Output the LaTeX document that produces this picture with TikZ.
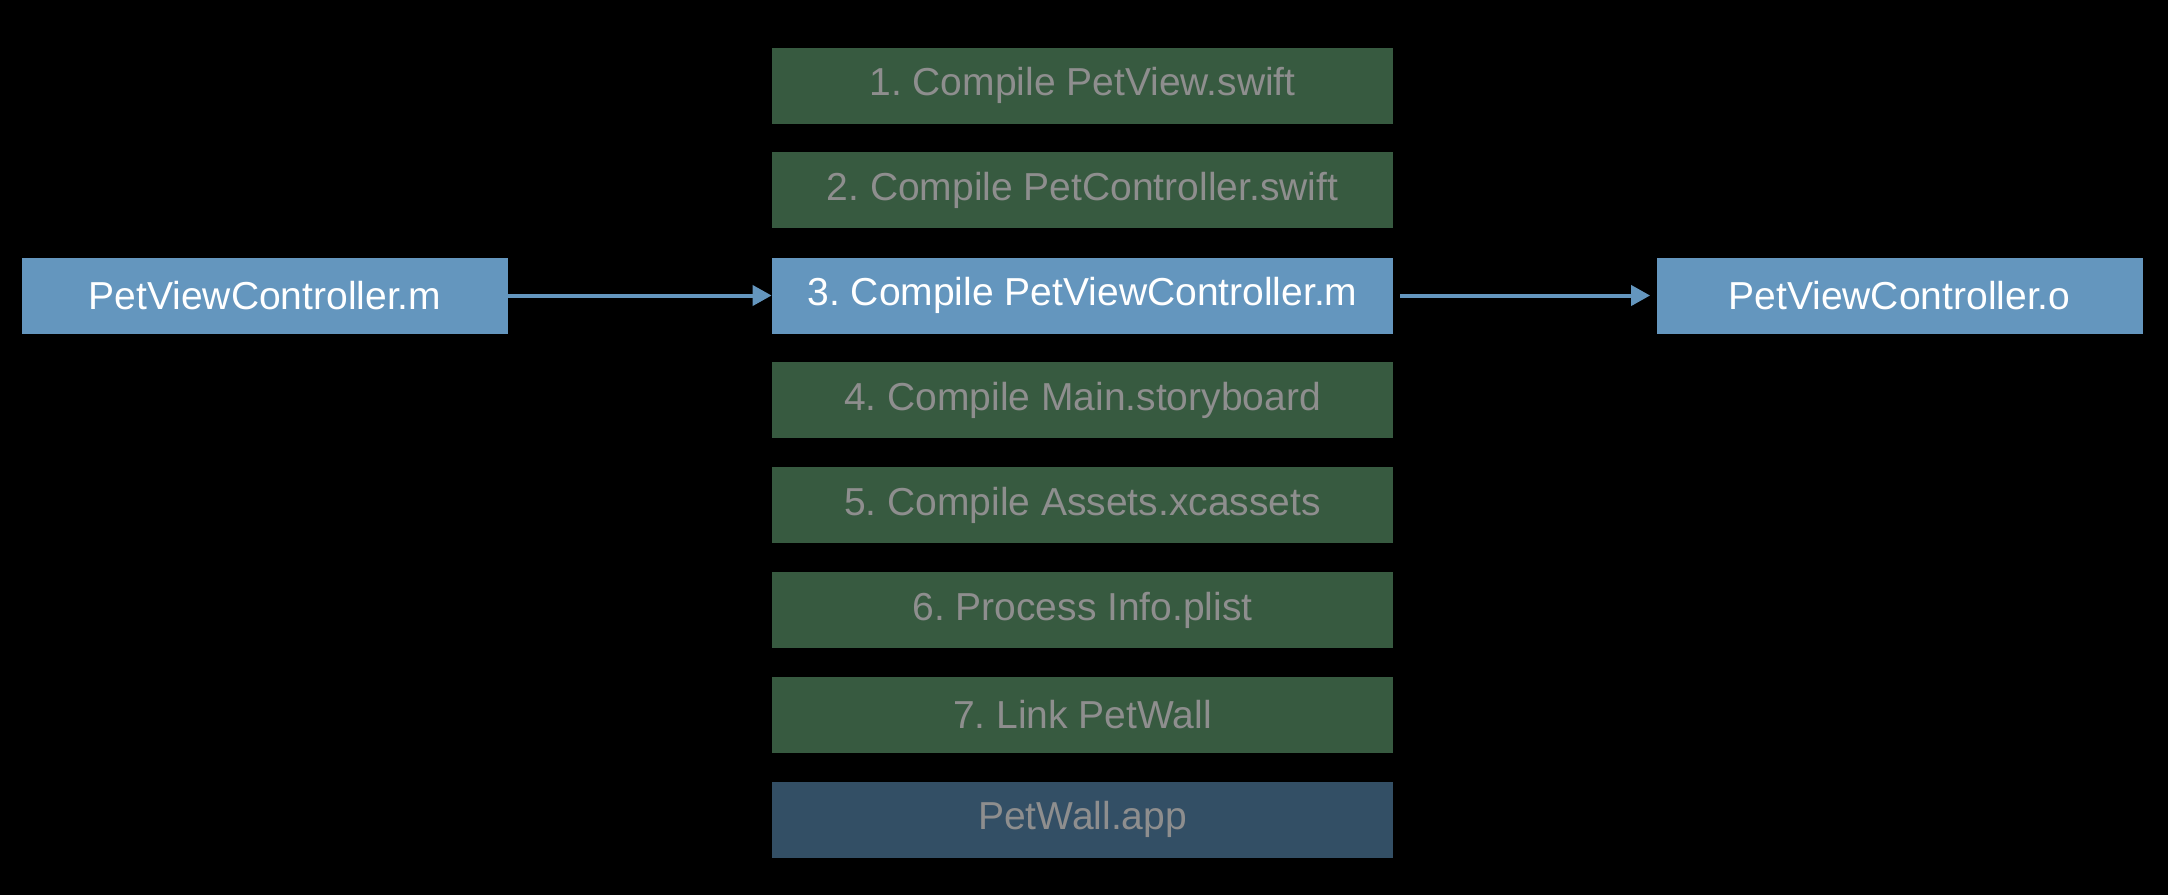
\documentclass[tikz,border=0pt]{standalone}
\usepackage{fontspec}
\setmainfont{Liberation Sans}
\usetikzlibrary{arrows.meta}
\definecolor{boxblue}{RGB}{100,150,190}
\definecolor{boxgreen}{RGB}{55,90,64}
\definecolor{boxdark}{RGB}{51,79,101}
\definecolor{txtgray}{RGB}{142,142,142}
\frenchspacing
\begin{document}
\begin{tikzpicture}[x=0.5pt,y=-0.5pt,
  box/.style={minimum width=310.5pt,minimum height=38pt,inner sep=0pt,
    font=\fontsize{19.5}{22}\selectfont},
  stepgreen/.style={box,fill=boxgreen,text=txtgray},
  stepblue/.style={box,fill=boxblue,text=white},
  stepdark/.style={box,fill=boxdark,text=txtgray},
  filebox/.style={box,minimum width=243pt,fill=boxblue,text=white},
  conn/.style={draw=boxblue,line width=2pt,-{Triangle[length=9.5pt,width=10pt]}}]
\useasboundingbox (0,0) rectangle (2168,894);
\fill[black] (-10,-10) rectangle (2178,904);
\node[stepgreen] (c1) at (1082.5,85.5) {1. Compile PetView.swift};
\node[stepgreen] (c2) at (1082.5,190.4) {2. Compile PetController.swift};
\node[stepblue]  (c3) at (1082.5,295.5) {3. Compile PetViewController.m};
\node[stepgreen] (c4) at (1082.5,400.2) {4. Compile Main.storyboard};
\node[stepgreen] (c5) at (1082.5,505.1) {5. Compile Assets.xcassets};
\node[stepgreen] (c6) at (1082.5,610.0) {6. Process Info.plist};
\node[stepgreen] (c7) at (1082.5,714.9) {7. Link PetWall};
\node[stepdark]  (c8) at (1082.5,819.8) {PetWall.app};
\node[filebox] (src) at (265,295.5) {PetViewController.m};
\node[filebox] (obj) at (1899.5,295.5) {PetViewController.o};
\draw[conn] (src.east) -- (c3.west);
\draw[conn,shorten <=3.5pt,shorten >=3pt] (c3.east) -- (obj.west);
\end{tikzpicture}
\end{document}
